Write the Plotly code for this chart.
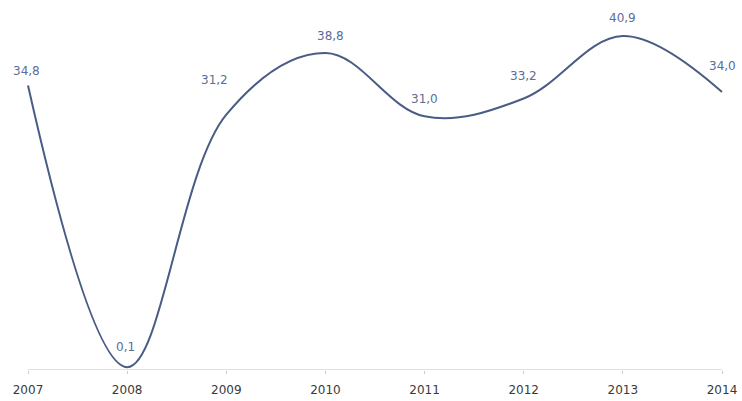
import plotly.graph_objects as go

# Annual values
years = ["2007", "2008", "2009", "2010", "2011", "2012", "2013", "2014"]
values = [34.8, 0.1, 31.2, 38.8, 31.0, 33.2, 40.9, 34.0]

# Label offsets (pixels) relative to each point
label_dx = [-2, -2, -12, 5, 0, 0, 0, 0]
label_dy = [14, 20, 35, 17, 17, 22, 18, 26]

LINE = "#4a5c86"
LABEL = "#5b6d9a"
FONT = "DejaVu Sans, Verdana, sans-serif"

idx = list(range(len(years)))

fig = go.Figure()
fig.add_trace(go.Scatter(
    x=idx, y=values, mode="lines",
    line=dict(color=LINE, width=2, shape="spline", smoothing=1.05),
    hoverinfo="skip", showlegend=False,
))

for i, v in enumerate(values):
    fig.add_annotation(
        x=i, y=v, text=f"{v:.1f}".replace(".", ","),
        showarrow=False, xshift=label_dx[i], yshift=label_dy[i],
        font=dict(family=FONT, size=12, color=LABEL),
    )

# Baseline axis
fig.add_shape(type="line", x0=0, x1=len(years) - 1, y0=-0.25, y1=-0.25,
              xref="x", yref="y", line=dict(color="#d9d9d9", width=1.5))

fig.update_layout(
    width=742, height=401,
    margin=dict(l=0, r=0, t=10, b=31),
    paper_bgcolor="white", plot_bgcolor="white",
    xaxis=dict(
        range=[-0.2824, 7.2017], tickmode="array", tickvals=idx, ticktext=years,
        showgrid=False, zeroline=False, showline=False,
        ticks="outside", ticklen=3, tickcolor="#cccccc",
        ticklabelstandoff=6,
        tickfont=dict(family=FONT, size=12, color="#3a3a3a"),
    ),
    yaxis=dict(range=[-0.25, 44.1], visible=False),
)

fig.write_html("out.html")
